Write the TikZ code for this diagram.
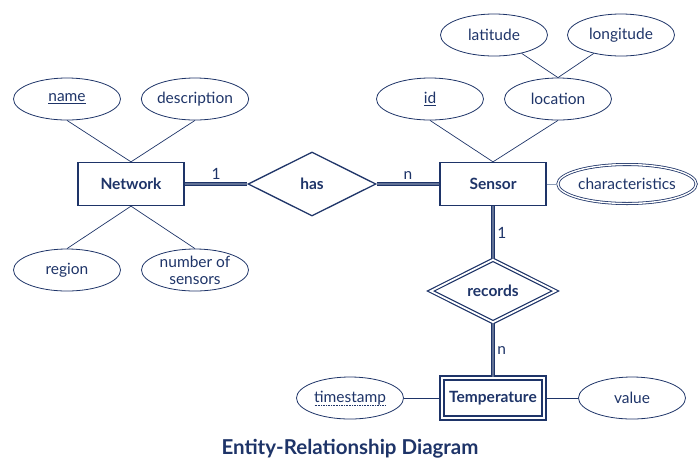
\documentclass[tikz,border=0pt]{standalone}
\usepackage{fontspec}
\setmainfont{Lato}
\usetikzlibrary{shapes.geometric}
\definecolor{ernavy}{HTML}{1E3468}
\definecolor{erpale}{HTML}{8C9DB8}
\newcommand{\dotsunder}[1]{\setbox0=\hbox{#1}\leavevmode\rlap{\raisebox{-3pt}{\hbox to \wd0{\xleaders\hbox to 1.6pt{\hss\rule{0.7pt}{0.6pt}\hss}\hfill}}}\box0}
\tikzset{
	entity/.style={draw=ernavy, line width=1.3pt, minimum width=106pt, minimum height=43pt, inner sep=0pt, text=ernavy, font=\fontsize{15.5}{17}\selectfont\bfseries},
	weakentity/.style={entity, double, line width=1.2pt, double distance=2.8pt, minimum width=102pt, minimum height=40pt},
	attrib/.style={ellipse, draw=ernavy, line width=0.8pt, minimum width=107pt, minimum height=42pt, inner sep=0pt, text=ernavy, align=center, font=\fontsize{15.5}{17}\selectfont},
	multiattrib/.style={attrib, double, double distance=1.4pt, minimum width=115pt, minimum height=39pt},
	relation/.style={diamond, draw=ernavy, line width=1.3pt, minimum width=128pt, minimum height=64pt, inner sep=0pt, text=ernavy, font=\fontsize{15.5}{17}\selectfont\bfseries},
	weakrelation/.style={relation, double, line width=1.2pt, double distance=1.8pt, minimum width=125pt, minimum height=60pt},
	attrline/.style={draw=ernavy, line width=0.7pt},
	paleline/.style={draw=erpale, line width=1pt},
	total/.style={draw=ernavy, line width=1.5pt, double=ernavy!70, double distance=1.2pt},
	card/.style={text=ernavy, inner sep=3.5pt, font=\fontsize{15.5}{17}\selectfont}
}

\begin{document}
\begin{tikzpicture}[x=1pt, y=-1pt]

	\useasboundingbox (0,0) rectangle (700,472);

	% entities and relationships
	\node[entity]		(net)	at (131,184)	{Network};
	\node[relation]		(has)	at (312,184)	{has};
	\node[entity]		(sen)	at (493,184)	{Sensor};
	\node[weakrelation]	(rec)	at (493,291)	{records};
	\node[weakentity]	(temp)	at (493,398)	{Temperature};

	% attributes
	\node[attrib]		(name)	at (67,99)	{\underline{name}};
	\node[attrib]		(desc)	at (195,99)	{description};
	\node[attrib]		(reg)	at (67,270)	{region};
	\node[attrib]		(nos)	at (195,270)	{number of\\sensors};

	\node[attrib]		(id)	at (430,99)	{\underline{id}};
	\node[attrib]		(loc)	at (558,99)	{location};
	\node[attrib]		(lat)	at (494,35)	{latitude};
	\node[attrib]		(lon)	at (621,35)	{longitude};
	\node[multiattrib]	(chars)	at (627,184)	{characteristics};

	\node[attrib]		(ts)	at (350,398)	{\dotsunder{timestamp}};
	\node[attrib]		(val)	at (632,398)	{value};

	\node[text=ernavy, font=\fontsize{20.5}{22}\selectfont\bfseries] (title) at (350,449) {Entity-Relationship Diagram};

	% attribute links
	\draw[attrline] (name.south) -- (net.north);
	\draw[attrline] (desc.south) -- (net.north);
	\draw[attrline] (reg.north) -- (net.south);
	\draw[attrline] (nos.north) -- (net.south);

	\draw[attrline] (id.south) -- (sen.north);
	\draw[attrline] (loc.south) -- (sen.north);
	\draw[attrline] (lat) -- (loc.north);
	\draw[attrline] (lon) -- (loc.north);
	\draw[paleline] (sen) -- (chars);

	\draw[attrline] (ts) -- (temp);
	\draw[attrline] (val) -- (temp);

	% participation
	\draw[total] (net) -- node[card, above] {1} (has);
	\draw[total] (has) -- node[card, above] {n} (sen);
	\draw[total] (sen) -- node[card, right] {1} (rec);
	\draw[total] (rec) -- node[card, right] {n} (temp);

\end{tikzpicture}
\end{document}
